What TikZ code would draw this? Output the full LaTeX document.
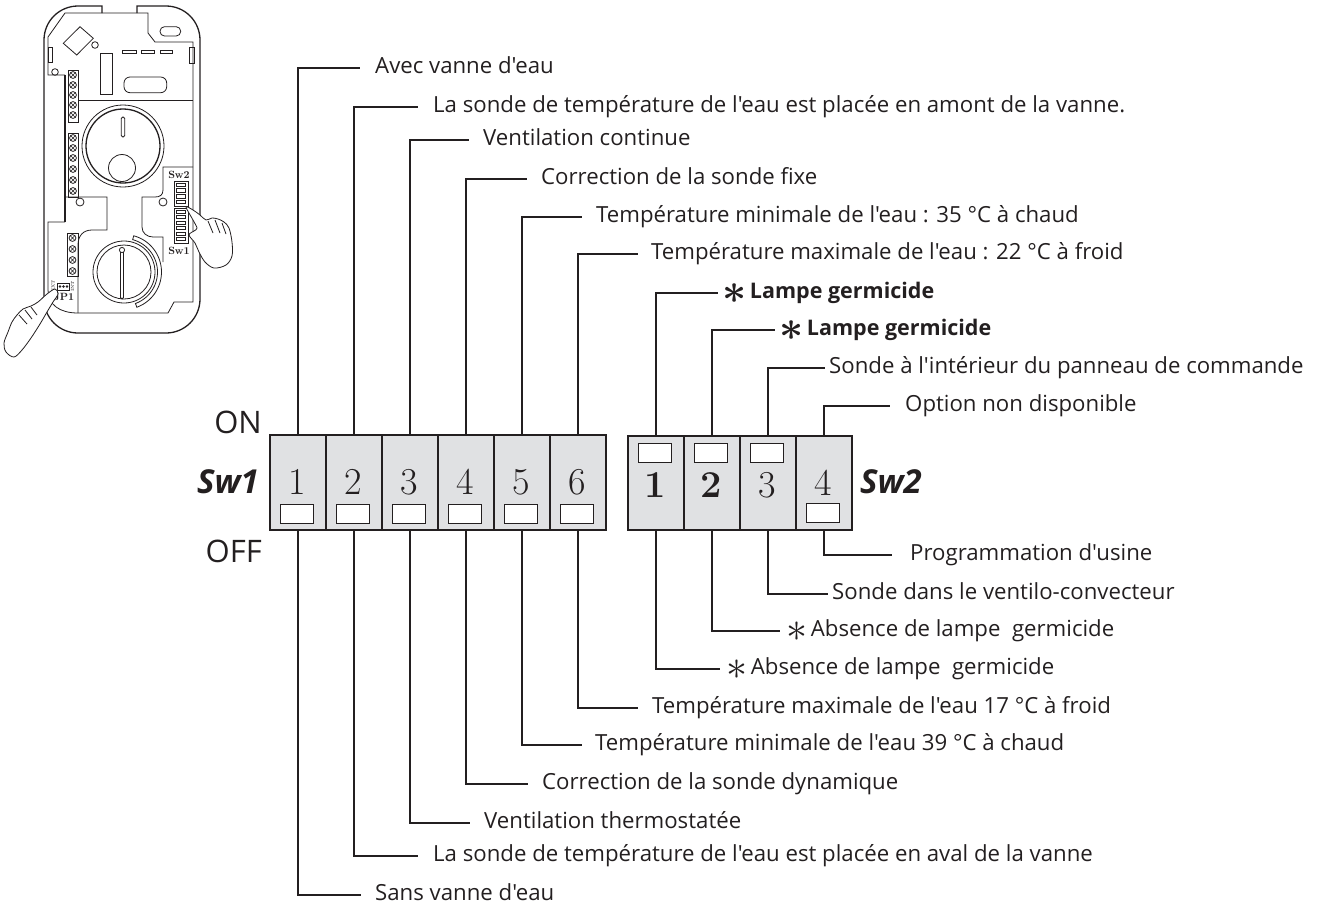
\RequirePackage{fix-cm}
\documentclass[tikz,border=0pt]{standalone}
\usepackage{fontspec}
\defaultfontfeatures{}
\newfontfamily\labfont{Open Sans}
\definecolor{ink}{RGB}{35,31,32}
\definecolor{swgray}{RGB}{224,225,227}

\tikzset{
  lead/.style={draw=ink, line width=2pt},
  lab/.style={anchor=west, inner ysep=0pt, inner xsep=#1, text height=10.5pt,
    text depth=0pt, text=ink, font=\labfont\fontsize{22.2}{25}\selectfont},
  lab/.default=14pt,
  blab/.style={lab=#1, font=\labfont\bfseries\fontsize{21.5}{25}\selectfont},
  blab/.default=4pt,
  cell/.style={rectangle, draw=ink, line width=1.6pt, fill=swgray,
    minimum width=56pt, minimum height=95pt, inner sep=0pt, anchor=north west},
  slot/.style={rectangle, draw=ink, line width=1.5pt, fill=white,
    minimum width=33pt, minimum height=19pt, inner sep=0pt},
  num/.style={anchor=base, inner sep=0pt, text=ink, font=\fontsize{38}{40}\selectfont},
  bnum/.style={num, font=\bfseries\fontsize{38}{40}\selectfont},
  side/.style={inner sep=0pt, text=ink, font=\labfont\fontsize{31}{34}\selectfont},
  swname/.style={inner sep=0pt, text=ink, font=\labfont\bfseries\itshape\fontsize{33}{36}\selectfont},
  dev/.style={draw=ink, line width=0.8pt},
  devthick/.style={draw=ink, line width=1.3pt},
  tiny/.style={inner sep=0pt, text=ink, font=\bfseries\fontsize{10.5}{10.5}\selectfont},
}
% six-armed star placed on the leader height
\newcommand{\st}{\smash{\raisebox{-5pt}{\fontsize{42}{42}\selectfont$\ast$}}}
\newcommand{\bst}{\smash{\raisebox{-5pt}{\fontsize{42}{42}\selectfont\boldmath$\ast$}}}
\newcommand{\screw}[2]{%
  \draw[dev, fill=white] (#1,#2) circle[radius=3.4];
  \draw[ink, line width=0.6pt] (#1-2,#2-2) -- (#1+2,#2+2) (#1-2,#2+2) -- (#1+2,#2-2);}

\begin{document}
\begin{tikzpicture}[x=1pt, y=-1pt]
\useasboundingbox (0,0) rectangle (1324,903);

% ---------- controller board sketch ----------
% housing
\draw[devthick] (102,13) -- (102,6) -- (78,6)
  .. controls (59.2,6) and (44,21.2) .. (44,40) -- (44,299)
  .. controls (44,317.8) and (59.2,333) .. (78,333) -- (166,333)
  .. controls (184.8,333) and (200,317.8) .. (200,299) -- (200,40)
  .. controls (200,21.2) and (184.8,6) .. (166,6) -- (137,6) -- (137,13);
% board outline
\draw[dev] (65,75) -- (48,75) -- (48,37) -- (65,13) -- (148,13) -- (148,33)
  -- (155,42) -- (193,42) -- (193,302) -- (174,302) -- (168,313) -- (78,313)
  .. controls (60,313) and (48,305) .. (48,290) -- (48,222) -- (65,222);
\draw[ink, line width=2.4pt] (65,75) -- (65,222);
\draw[dev] (79,100) -- (193,100);
% top components
\draw[dev] (63.3,43.3) -- (80,26.7) -- (93.3,38.3) -- (76.7,55) -- cycle;
\draw[dev] (95,45) circle[radius=3.3];
\draw[dev] (55,72) circle[radius=3.3];
\draw[dev] (48.3,47) rectangle (52.7,62);
\draw[dev] (189,47) rectangle (194,63);
\draw[dev] (122.7,50) rectangle (136,53.5);
\draw[dev] (141.7,50) rectangle (154,53.5);
\draw[dev] (160,50) rectangle (172.7,53.5);
\draw[dev] (100,53) rectangle (112.7,94);
\draw[dev, rounded corners=6pt] (124,77) rectangle (166.7,92.7);
\draw[dev, rounded corners=4.5pt] (160,26.7) rectangle (180.7,36);
% terminal strips
\draw[dev] (68,70) rectangle (78,122);
\foreach \yy in {75,85,95,105,115} {\screw{73}{\yy}}
\draw[dev] (68,133) rectangle (78,197);
\foreach \yy in {138,148,158,169,180,191} {\screw{73}{\yy}}
\draw[dev] (67,233) rectangle (78,276);
\foreach \yy in {238,249,260,271} {\screw{72.5}{\yy}}
% inner partitions
\draw[dev] (65,197) -- (107,197) -- (107,230) -- (92,230)
  .. controls (83,230) and (78,236) .. (78,245) -- (78,313);
\draw[dev] (193,167) -- (163,167) -- (163,190)
  .. controls (163,195) and (160,197) .. (155,197) -- (142,197) -- (142,227)
  .. controls (142,233) and (147,237) .. (153,237) -- (163,237) -- (163,262);
\draw[dev] (80,202) circle[radius=4];
\draw[dev] (163,202) circle[radius=4];
% upper knob
\draw[dev, fill=white] (123,146) circle[radius=41];
\draw[devthick] (123,146) circle[radius=37];
\draw[dev, rounded corners=1.5pt] (121.3,117) rectangle (124.7,137);
\draw[dev] (122,168) circle[radius=13.5];
% lower knob with guard
\draw[dev, fill=white] plot[domain=-75:70, samples=40] ({124+37.5*cos(\x)},{272+37.5*sin(\x)})
  -- plot[domain=70:-75, samples=40] ({124+33.5*cos(\x)},{272+33.5*sin(\x)}) -- cycle;
\draw[dev, fill=white] (124,272) circle[radius=31];
\draw[dev] (124,272) circle[radius=27];
\draw[dev, rounded corners=1.5pt] (120.5,250) rectangle (123.5,299);
\draw[dev, fill=white] (122,250) circle[radius=2.6];
% DIP switch blocks on the board
\node[tiny] (sw2s) at (179,175) {Sw2};
\draw[dev] (174,181) rectangle (188,206);
\foreach \k in {0,1,2,3} {\draw[dev] (176.5,{183+\k*5.8}) rectangle (185.5,{186.3+\k*5.8});}
\draw[dev] (174,208) rectangle (188,243);
\foreach \k in {0,...,5} {\draw[dev] (176.5,{210+\k*5.5}) rectangle (185.5,{213.2+\k*5.5});}
\node[tiny] (sw1s) at (179,251) {Sw1};
% jumper
\draw[dev] (57,283) rectangle (69,290);
\foreach \xx in {60,63.5,67} {\fill[ink] (\xx,286.5) circle[radius=1.3];}
\node[inner sep=0pt, text=ink, font=\fontsize{4.5}{5}\selectfont, rotate=90] (ext) at (53,286.5) {EXT};
\node[inner sep=0pt, text=ink, font=\fontsize{4.5}{5}\selectfont, rotate=90] (int) at (72.5,286.5) {INT};
\node[tiny] (jp) at (64,297) {JP1};
% hands
\draw[dev, fill=white] plot[smooth cycle, tension=0.55] coordinates {
  (186,207) (193,210) (200,215) (206,220) (212,218) (218,219) (224,222)
  (229,228) (232,242) (232,256) (226,265) (214,268) (205,262) (199,252)
  (195,243) (189,235) (194,231) (197,228) (193,220)};
\draw[dev] (208,221) -- (213,233) (215,220) -- (220,233) (222,223) -- (226,234);
\draw[dev, fill=white] plot[smooth cycle, tension=0.55] coordinates {
  (55,289) (58,294) (53,302) (47,312) (40,324) (31,338) (22,350) (14,357)
  (6,352) (4,343) (8,332) (12,322) (17,315) (23,309) (31,306) (38,302) (47,294)};
\draw[dev] (19,315) -- (27,324) (25,310) -- (32,319) (31,307) -- (37,315);

% ---------- Sw1 ----------
\foreach \i in {1,...,6} {
  \node[cell] (a\i) at ({269+(\i-1)*56},434) {};
  \node[num] (an\i) at ({269+(\i-0.5)*56},494) {\i};
  \node[slot] (as\i) at ({269+(\i-0.5)*56},514) {};
}
% ---------- Sw2 ----------
\foreach \i in {1,...,4} {
  \node[cell, minimum height=94pt] (b\i) at ({627+(\i-1)*56},435) {};
}
\node[bnum] (bn1) at (655,497) {1};
\node[bnum] (bn2) at (711,497) {2};
\node[num]  (bn3) at (767,497) {3};
\node[num]  (bn4) at (823,495) {4};
\foreach \i in {1,2,3} {\node[slot] (bs\i) at ({627+(\i-0.5)*56},453) {};}
\node[slot] (bs4) at (823,513) {};

\node[side, anchor=base east] (on) at (262,433) {ON};
\node[side, anchor=base east] (off) at (262,562) {OFF};
\node[swname, anchor=base east] (sw1) at (259,493) {Sw1};
\node[swname, anchor=base west] (sw2) at (860,493) {Sw2};

% ---------- ON side labels ----------
\node[lab=15pt] (t1) at (360,68) {Avec vanne d'eau};
\node[lab=15pt] (t2) at (418,107) {La sonde de température de l'eau est placée en amont de la vanne.};
\node[lab=14pt] (t3) at (469,140) {Ventilation continue};
\node[lab=14pt] (t4) at (527,179) {Correction de la sonde fixe};
\node[lab=14pt] (t5) at (582,217) {Température minimale de l'eau : 35 °C à chaud};
\node[lab=13pt] (t6) at (638,254) {Température maximale de l'eau : 22 °C à froid};
\node[blab=4pt] (u1) at (718,293) {\bst\,Lampe germicide};
\node[blab=4pt] (u2) at (775,330) {\bst\,Lampe germicide};
\node[lab=4pt] (u3) at (825,368) {Sonde à l'intérieur du panneau de commande};
\node[lab=15pt] (u4) at (890,406) {Option non disponible};
\foreach \i in {1,...,6} {\draw[lead] (a\i.north) |- (t\i.west);}
\foreach \i in {1,...,4} {\draw[lead] (b\i.north) |- (u\i.west);}

% ---------- OFF side labels ----------
\node[lab=18pt] (v4) at (892,555) {Programmation d'usine};
\node[lab=4pt] (v3) at (828,594) {Sonde dans le ventilo-convecteur};
\node[lab=6pt] (v2) at (780,631) {\st\,Absence de lampe \ germicide};
\node[lab=6pt] (v1) at (720,669) {\st\,Absence de lampe \ germicide};
\node[lab=14pt] (w6) at (638,708) {Température maximale de l'eau 17 °C à froid};
\node[lab=13pt] (w5) at (582,745) {Température minimale de l'eau 39 °C à chaud};
\node[lab=14pt] (w4) at (528,784) {Correction de la sonde dynamique};
\node[lab=14pt] (w3) at (470,823) {Ventilation thermostatée};
\node[lab=15pt] (w2) at (418,856) {La sonde de température de l'eau est placée en aval de la vanne};
\node[lab=14pt] (w1) at (361,895) {Sans vanne d'eau};
\foreach \i in {1,...,6} {\draw[lead] (a\i.south) |- (w\i.west);}
\foreach \i in {1,...,4} {\draw[lead] (b\i.south) |- (v\i.west);}
\end{tikzpicture}
\end{document}
